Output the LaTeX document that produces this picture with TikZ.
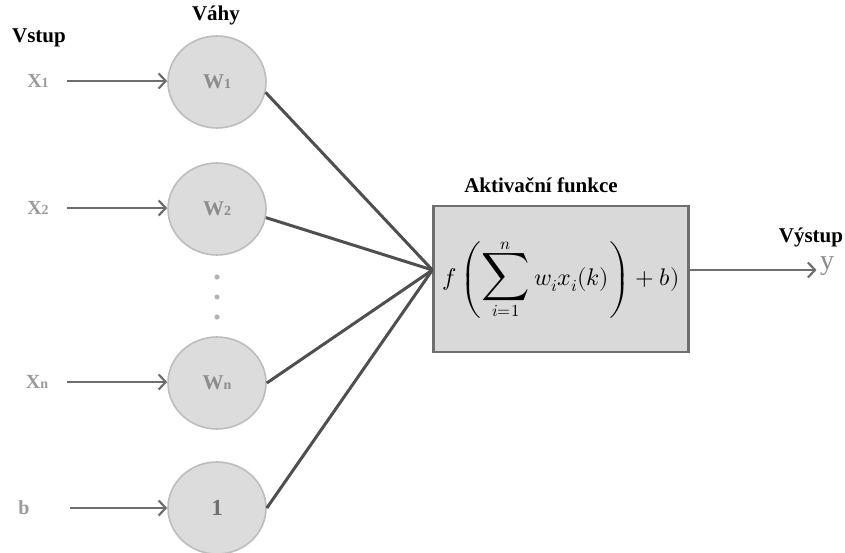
\documentclass[tikz,border=0pt]{standalone}
\usepackage{amsmath}
\usepackage{unicode-math}
\setmainfont{Liberation Serif}
\setmathfont{Latin Modern Math}
\usepackage{tikz}
\usetikzlibrary{arrows.meta,shapes.geometric}
\definecolor{arrowgray}{HTML}{6E6E6E}
\definecolor{joingray}{HTML}{4F4F4F}
\definecolor{nodefill}{HTML}{DCDCDC}
\definecolor{nodeedge}{HTML}{BDBDBD}
\definecolor{boxfill}{HTML}{D9D9D9}
\definecolor{boxedge}{HTML}{6F6F6F}
\definecolor{labelgray}{HTML}{9A9A9A}
\definecolor{weightgray}{HTML}{8C8C8C}
\definecolor{dotgray}{HTML}{B4B4B4}
\newcommand{\smallidx}[1]{{\fontsize{14}{14}\selectfont #1}}
\tikzset{
  feed/.style={-{Straight Barb[length=7pt,width=15pt,line width=2.2pt]},
    line width=2.8pt, draw=arrowgray},
  joinline/.style={line width=3pt, draw=joingray},
  weight/.style={ellipse, draw=nodeedge, fill=nodefill, line width=1.6pt,
    minimum width=98pt, minimum height=92pt, inner sep=0pt,
    text=weightgray, font=\bfseries\fontsize{21}{21}\selectfont},
  actbox/.style={draw=boxedge, fill=boxfill, line width=2.2pt,
    minimum width=255pt, minimum height=146pt, inner sep=0pt,
    font=\fontsize{24}{28}\selectfont},
  heading/.style={font=\bfseries\fontsize{21}{21}\selectfont},
  inlabel/.style={text=labelgray, font=\bfseries\fontsize{20}{20}\selectfont}
}

\begin{document}
\begin{tikzpicture}[x=1pt, y=-1pt]
  \useasboundingbox (0,0) rectangle (845,553);

  % column headings
  \node[heading] (inhead) at (39,38) {Vstup};
  \node[heading] (whead) at (216,15) {Váhy};
  \node[heading] (acthead) at (541,185) {Aktivační funkce};
  \node[heading] (outhead) at (811,237) {Výstup};

  % inputs and weights
  \node[inlabel] (x1) at (38,81) {X\smallidx{1}};
  \node[inlabel] (x2) at (38,208) {X\smallidx{2}};
  \node[inlabel] (xn) at (37,382) {X\smallidx{n}};
  \node[inlabel] (b) at (24,508) {b};

  \node[weight] (w1) at (217,82) {W\smallidx{1}};
  \node[weight] (w2) at (217,209) {W\smallidx{2}};
  \node[weight] (wn) at (217,383) {W\smallidx{n}};
  \node[weight, font=\bfseries\fontsize{23}{23}\selectfont,
    text=arrowgray] (one) at (217,508) {1};

  \foreach \y in {277,297,317}
    \fill[dotgray] (217,\y) circle (2.6);

  \draw[feed] ([xshift=15pt]x1.east) -- (x1.east -| w1.west);
  \draw[feed] ([xshift=15pt]x2.east) -- (x2.east -| w2.west);
  \draw[feed] ([xshift=15pt]xn.east) -- (xn.east -| wn.west);
  \draw[feed] ([xshift=37pt]b.east) -- (one.west);

  % activation function
  \node[actbox] (act) at (561,279)
    {$f\left(\mathop{\scalebox{1.4}{$\displaystyle\sum$}}\limits_{i=1}^{n}
      w_i x_i(k)\right) + b)$};
  \coordinate (join) at ([yshift=9pt]act.west);
  \coordinate (exit) at ([yshift=9pt]act.east);

  \draw[joinline] (w1.-12) -- (join);
  \draw[joinline] (w2.-10) -- (join);
  \draw[joinline] (wn.east) -- (join);
  \draw[joinline] (one.east) -- (join);

  % output
  \node[text=weightgray, font=\fontsize{28}{28}\selectfont] (y) at (827,266) {y};
  \draw[feed] (exit) -- (exit -| y.west);
\end{tikzpicture}
\end{document}
